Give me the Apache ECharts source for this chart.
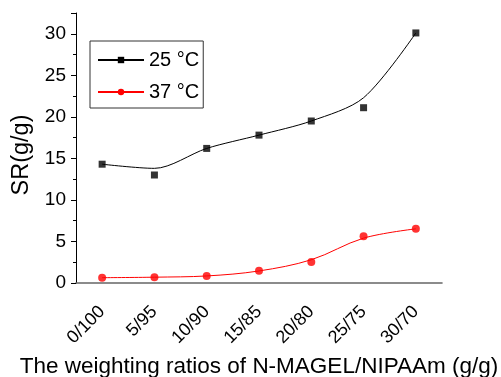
<!DOCTYPE html>
<html>
<head>
<meta charset="utf-8">
<script src="https://cdn.jsdelivr.net/npm/echarts@6/dist/echarts.min.js"></script>
<style>
html, body { margin: 0; padding: 0; background: #fff; }
#plot { width: 501px; height: 377px; }
</style>
</head>
<body>
<div id="plot"></div>
<script>
var ratios = ['0/100', '5/95', '10/90', '15/85', '20/80', '25/75', '30/70'];
// measured points
var sr25 = [14.3, 13.0, 16.2, 17.8, 19.5, 21.1, 30.1];
var sr37 = [0.64, 0.7, 0.84, 1.48, 2.52, 5.64, 6.52];
// fitted curves as drawn in the figure, read at each ratio
var fit25 = [14.3, 13.8, 16.2, 17.8, 19.5, 22.3, 30.1];
var fit37 = [0.64, 0.7, 0.85, 1.45, 2.8, 5.4, 6.52];

var font = 'Liberation Sans, Arial, sans-serif';

function initChart (element) {
	var option = {
		animation: false,
		grid: { left: 76, right: 59, top: 13, bottom: 94, containLabel: false, outerBoundsMode: 'none' },
		legend: {
			left: 90, top: 41,
			orient: 'vertical',
			data: ['25 °C', '37 °C'],
			borderColor: '#333',
			borderWidth: 1,
			padding: [9, 4, 6, 7],
			itemWidth: 46,
			itemHeight: 8,
			itemGap: 12,
			textStyle: { fontFamily: font, fontSize: 20, color: '#000' }
		},
		xAxis: [
			{
				type: 'category',
				data: ratios,
				boundaryGap: true,
				name: 'The weighting ratios of N-MAGEL/NIPAAm (g/g)',
				nameLocation: 'middle',
				nameGap: 72,
				nameTextStyle: { fontFamily: font, fontSize: 22.5, color: '#000' },
				axisLine: { lineStyle: { color: '#666', width: 1.6 } },
				axisTick: { alignWithLabel: true, length: 6, lineStyle: { color: '#000' } },
				axisLabel: { rotate: 45, margin: 26, fontFamily: font, fontSize: 18, color: '#000' },
				splitLine: { show: false }
			},
			{
				// minor ticks between the ratios
				type: 'category',
				data: ratios,
				position: 'bottom',
				boundaryGap: true,
				axisLine: { show: false },
				axisTick: { length: 3, lineStyle: { color: '#000' } },
				axisLabel: { show: false },
				splitLine: { show: false }
			}
		],
		yAxis: {
			type: 'value',
			min: 0,
			max: 32.5,
			interval: 5,
			name: 'SR(g/g)',
			nameLocation: 'middle',
			nameGap: 41,
			nameTextStyle: { fontFamily: font, fontSize: 23.5, color: '#000', padding: [0, 14, 0, 0] },
			axisLine: { show: true, lineStyle: { color: '#000', width: 1 } },
			axisTick: { show: true, length: 5, lineStyle: { color: '#000' } },
			minorTick: { show: true, splitNumber: 2, length: 3, lineStyle: { color: '#000' } },
			axisLabel: { margin: 10, fontFamily: font, fontSize: 19, color: '#000',
				formatter: function (v) { return v % 5 === 0 ? v : ''; } },
			splitLine: { show: false }
		},
		series: [
			{
				name: '25 °C',
				type: 'line',
				data: fit25,
				smooth: 0.3,
				symbol: 'rect',
				symbolSize: 7,
				showSymbol: false,
				itemStyle: { color: '#000' },
				lineStyle: { color: '#000', width: 1 },
				z: 2
			},
			{
				name: '25 °C',
				type: 'scatter',
				data: sr25,
				symbol: 'rect',
				symbolSize: 7,
				itemStyle: { color: '#000' },
				z: 3
			},
			{
				name: '37 °C',
				type: 'line',
				data: fit37,
				smooth: 0.35,
				symbol: 'circle',
				symbolSize: 8,
				showSymbol: false,
				itemStyle: { color: '#ff0000' },
				lineStyle: { color: '#ff0000', width: 1 },
				z: 2
			},
			{
				name: '37 °C',
				type: 'scatter',
				data: sr37,
				symbol: 'circle',
				symbolSize: 8,
				itemStyle: { color: '#ff0000' },
				z: 3
			}
		]
	};
	var chart = echarts.init(document.getElementById(element), null, { renderer: 'canvas' });
	chart.setOption(option);
}
initChart('plot');
</script>
</body>
</html>
